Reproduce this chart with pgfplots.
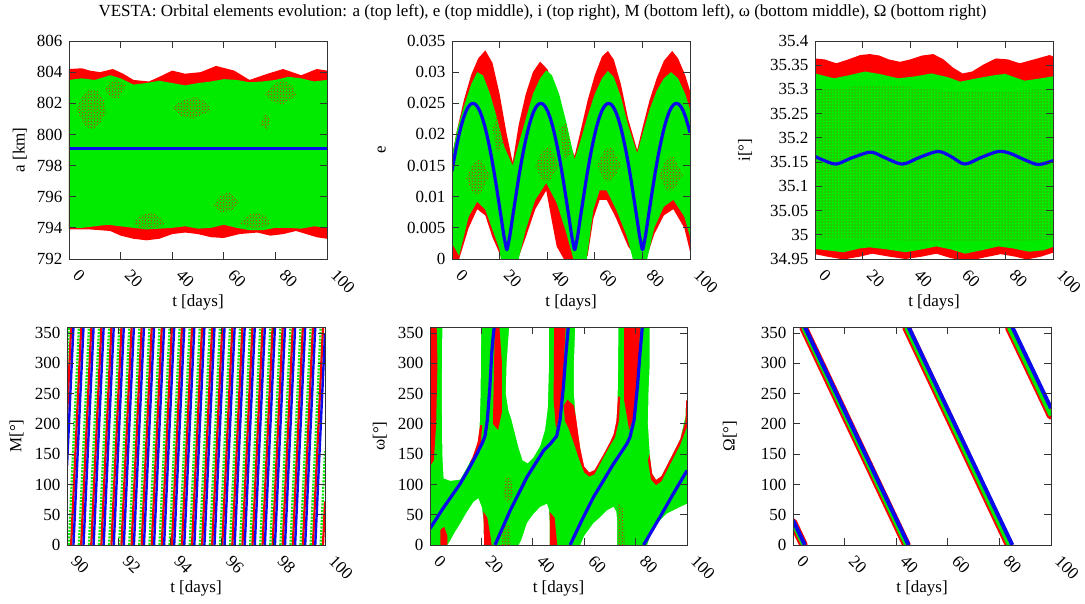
\documentclass[border=0pt]{standalone}
\usepackage{pgfplots}
\pgfplotsset{compat=1.18}
\usetikzlibrary{patterns}
\usepackage{fontspec}
\setmainfont{Liberation Serif}
\definecolor{gpred}{RGB}{255,0,0}
\definecolor{gpgreen}{RGB}{0,235,0}
\definecolor{gpblue}{RGB}{10,10,235}
\pgfplotsset{
 gp/.style={
  scale only axis, anchor=south west, axis on top,
  font=\fontsize{17}{19}\selectfont,
  /pgf/number format/assume math mode=true,
  tick align=inside, major tick length=7pt,
  axis line style={black!80, line width=0.9pt},
  every tick/.style={black!80, line width=0.9pt},
  xticklabel style={inner sep=1pt, xshift=6.3pt, yshift=-12.3pt, rotate=-45, anchor=west},
  yticklabel style={xshift=-3pt},
  xlabel={t [days]},
  xlabel style={inner sep=0pt, at={(axis description cs:0.5,-0.197)}, anchor=center},
  unbounded coords=jump,
  scaled ticks=false,
  height=218pt,
 }
}
\begin{document}
\begin{tikzpicture}[x=1pt,y=1pt]
\path[use as bounding box] (0,0) rectangle (1085,-603);
\node[font=\fontsize{17}{19}\selectfont] at (542.5,-12) {VESTA: Orbital elements evolution: a (top left), e (top middle), i (top right), M (bottom left), ω (bottom middle), Ω (bottom right)};

% ---------------- a ----------------
\begin{axis}[gp, at={(69pt,-259pt)}, width=258pt,
  xmin=0, xmax=100, ymin=792, ymax=806,
  xtick={0,20,40,60,80,100}, ytick={792,794,796,798,800,802,804,806},
  yticklabels={792,794,796,798,800,802,804,806},
  ylabel={a [km]}, ylabel style={at={(axis description cs:-0.19,0.5)}, anchor=center}]
\addplot[draw=none, fill=gpred] coordinates {(0,804.2) (5,804.25) (8,804.1) (12,804.0) (17,804.2) (21,803.9) (25,803.5) (31,803.4) (35,803.7) (40,804.1) (45,803.9) (51,804.0) (57,804.4) (64,804.1) (70,803.5) (77,803.9) (83,804.2) (90,803.8) (96,804.2) (100,804.1)
 (100,793.3) (96,793.4) (92,793.6) (88,793.8) (83,793.6) (78,793.5) (73,793.7) (66,793.6) (60,793.35) (55,793.4) (50,793.6) (45,793.7) (40,793.6) (35,793.3) (30,793.2) (25,793.3) (20,793.5) (16,793.8) (8,793.9) (0,793.9)} -- cycle;
\addplot[draw=none, fill=gpgreen] coordinates {(0,803.5) (5,803.6) (10,803.5) (16,803.8) (20,803.6) (25,803.2) (30,803.3) (35,803.45) (40,803.3) (45,803.15) (50,803.3) (55,803.4) (60,803.55) (65,803.5) (70,803.35) (75,803.4) (80,803.5) (85,803.7) (90,803.6) (95,803.4) (100,803.5)
 (100,794.0) (95,794.1) (90,793.95) (85,794.0) (80,794.0) (75,793.85) (70,793.85) (65,794.0) (60,794.2) (55,794.0) (50,793.95) (45,794.1) (40,794.0) (35,793.95) (30,793.9) (25,794.0) (20,794.1) (15,794.2) (10,794.1) (5,794.0) (0,794.0)} -- cycle;
\addplot[draw=none, pattern=crosshatch dots, pattern color=gpred] coordinates {(3,801.6) (5,802.4) (8,802.9) (11,802.8) (13.5,802.2) (14.5,801.4) (12,800.7) (9,800.3) (6,800.6)} -- cycle;
\addplot[draw=none, pattern=crosshatch dots, pattern color=gpred] coordinates {(14,802.9) (16,803.4) (19,803.5) (22,803.1) (19,802.3) (16,802.4)} -- cycle;
\addplot[draw=none, pattern=crosshatch dots, pattern color=gpred] coordinates {(25,794.3) (28,794.8) (32,795.0) (36,794.6) (37,794.2) (32,793.9) (27,794.0)} -- cycle;
\addplot[draw=none, pattern=crosshatch dots, pattern color=gpred] coordinates {(56,795.5) (59,796.1) (62,796.3) (66,795.7) (63,795.1) (59,795.0)} -- cycle;
\addplot[draw=none, pattern=crosshatch dots, pattern color=gpred] coordinates {(66,794.3) (69,794.8) (73,795.0) (77,794.7) (78,794.2) (72,793.9)} -- cycle;
\addplot[draw=none, pattern=crosshatch dots, pattern color=gpred] coordinates {(40,801.7) (44,802.2) (49,802.4) (54,802.0) (55,801.5) (48,801.0) (43,801.2)} -- cycle;
\addplot[draw=none, pattern=crosshatch dots, pattern color=gpred] coordinates {(76,802.6) (79,803.2) (83,803.5) (87,803.1) (88,802.5) (83,801.9) (79,802.1)} -- cycle;
\addplot[draw=none, pattern=crosshatch dots, pattern color=gpred] coordinates {(74,800.6) (76,801.3) (78,801.0) (77,800.3)} -- cycle;
\addplot[gpblue, line width=3.2pt] coordinates {(0,799.1) (100,799.1)};
\end{axis}

% ---------------- e ----------------
\begin{axis}[gp, at={(452pt,-259pt)}, width=238pt,
  xmin=0, xmax=100, ymin=0, ymax=0.035,
  xtick={0,20,40,60,80,100}, ytick={0,0.005,0.01,0.015,0.02,0.025,0.03,0.035},
  yticklabels={0,0.005,0.01,0.015,0.02,0.025,0.03,0.035},
  ylabel={e}, ylabel style={at={(axis description cs:-0.295,0.5)}, anchor=center}]
\addplot[draw=none, fill=gpred] coordinates {(0,0.0165) (2,0.0205) (5,0.0255) (8,0.0295) (11,0.0322) (14,0.0335) (17,0.0315) (20,0.0265) (23,0.0200) (25.5,0.0155) (28,0.0215) (31,0.0265) (34,0.0300) (37,0.0317) (40,0.0305) (43,0.0280) (46,0.0235) (49,0.0190) (51.5,0.0165) (54,0.0205) (57,0.0255) (60,0.0295) (63,0.0325) (65.5,0.0334) (68,0.0320) (71,0.0280) (74,0.0225) (77.8,0.0175) (80,0.0210) (83,0.0255) (86,0.0290) (89,0.0318) (92.5,0.0334) (95,0.0322) (98,0.0295) (100,0.0270)
 (100,0.0012) (97.6,0.0050) (93,0.0080) (89,0.0070) (85,0.0040) (82,0.0005) (78,0) (74,0.0020) (69,0.0065) (65,0.0095) (62,0.0095) (59.4,0.0065) (57,0.0005) (54,0) (47,0) (44,0.0020) (42,0.0060) (39.6,0.0110) (35,0.0080) (31,0.0035) (28,0.0003) (21,0) (17,0.0035) (14,0.0070) (10.6,0.0080) (7,0.0050) (3,0) (0,0)} -- cycle;
\addplot[draw=none, fill=gpgreen] coordinates {(0,0.0165) (2,0.0205) (5,0.0245) (8,0.0280) (10.6,0.0300) (13,0.0295) (16,0.0265) (19,0.0225) (22,0.0180) (25.5,0.0150) (28,0.0185) (31,0.0225) (34,0.0265) (37,0.0290) (39.6,0.0303) (42,0.0295) (45,0.0265) (48,0.0220) (51.5,0.0160) (54,0.0190) (57,0.0230) (60,0.0265) (63,0.0290) (65.5,0.0302) (68,0.0292) (71,0.0260) (74,0.0215) (77.8,0.0170) (80,0.0200) (83,0.0240) (86,0.0270) (89,0.0290) (92,0.0300) (95,0.0290) (98,0.0265) (100,0.0240)
 (100,0.0036) (97.6,0.0068) (93,0.0095) (89,0.0084) (85,0.0050) (82,0) (76,0) (73.5,0.0036) (69,0.0079) (65,0.0110) (62,0.0110) (59.4,0.0079) (56.6,0) (51,0) (48,0.0042) (44,0.0090) (39.6,0.0122) (35,0.0095) (31,0.0047) (28,0) (20.5,0) (20,0.0015) (17,0.0047) (14,0.0079) (10.6,0.0092) (7,0.0068) (3,0.0005) (0,0.0025)} -- cycle;
\addplot[draw=none, pattern=crosshatch dots, pattern color=gpred] coordinates {(6,0.013) (9,0.0155) (12,0.016) (16,0.0135) (12,0.0105) (9,0.0105)} -- cycle;
\addplot[draw=none, pattern=crosshatch dots, pattern color=gpred] coordinates {(35,0.015) (38,0.0175) (41,0.018) (45,0.015) (41,0.0125) (38,0.0125)} -- cycle;
\addplot[draw=none, pattern=crosshatch dots, pattern color=gpred] coordinates {(61,0.015) (64,0.0175) (67,0.018) (71,0.015) (67,0.0125) (64,0.0125)} -- cycle;
\addplot[draw=none, pattern=crosshatch dots, pattern color=gpred] coordinates {(87,0.0135) (90,0.016) (93,0.0165) (97,0.0135) (93,0.011) (90,0.011)} -- cycle;
\addplot[draw=none, pattern=crosshatch dots, pattern color=gpred] coordinates {(17,0.021) (20,0.024) (22,0.019) (19,0.017)} -- cycle;
\addplot[draw=none, pattern=crosshatch dots, pattern color=gpred] coordinates {(45,0.021) (48,0.022) (50,0.017) (47,0.016)} -- cycle;
\addplot[gpblue, line width=3.2pt, line join=round] coordinates {(0,.0141) (0.8,.0159) (1.8,.0179) (2.8,.0197) (3.8,.0213) (4.8,.0226) (5.8,.02365) (6.8,.0244) (7.8,.02485) (8.8,.0250) (9.8,.02485) (10.8,.0244) (11.8,.02365) (12.8,.0226) (13.8,.0213) (14.8,.0197) (15.8,.0179) (16.8,.0159) (17.8,.0137) (18.8,.0113) (19.8,.0088) (20.8,.0063) (21.8,.0037) (22.8,.0017) (23.05,.0015) (23.3,.0017) (24.3,.0037) (25.3,.0063) (26.3,.0088) (27.3,.0113) (28.3,.0137) (29.3,.0159) (30.3,.0179) (31.3,.0197) (32.3,.0213) (33.3,.0226) (34.3,.02365) (35.3,.0244) (36.3,.02485) (37.3,.0250) (38.3,.02485) (39.3,.0244) (40.3,.02365) (41.3,.0226) (42.3,.0213) (43.3,.0197) (44.3,.0179) (45.3,.0159) (46.3,.0137) (47.3,.0113) (48.3,.0088) (49.3,.0063) (50.3,.0037) (51.3,.0017) (51.55,.0015) (51.8,.0017) (52.8,.0037) (53.8,.0063) (54.8,.0088) (55.8,.0113) (56.8,.0137) (57.8,.0159) (58.8,.0179) (59.8,.0197) (60.8,.0213) (61.8,.0226) (62.8,.02365) (63.8,.0244) (64.8,.02485) (65.8,.0250) (66.8,.02485) (67.8,.0244) (68.8,.02365) (69.8,.0226) (70.8,.0213) (71.8,.0197) (72.8,.0179) (73.8,.0159) (74.8,.0137) (75.8,.0113) (76.8,.0088) (77.8,.0063) (78.8,.0037) (79.8,.0017) (80.05,.0015) (80.3,.0017) (81.3,.0037) (82.3,.0063) (83.3,.0088) (84.3,.0113) (85.3,.0137) (86.3,.0159) (87.3,.0179) (88.3,.0197) (89.3,.0213) (90.3,.0226) (91.3,.02365) (92.3,.0244) (93.3,.02485) (94.3,.0250) (95.3,.02485) (96.3,.0244) (97.3,.02365) (98.3,.0226) (99.3,.0213) (100,.0203)};
\end{axis}

% ---------------- i ----------------
\begin{axis}[gp, at={(815pt,-259pt)}, width=238pt,
  xmin=0, xmax=100, ymin=34.95, ymax=35.4,
  xtick={0,20,40,60,80,100}, ytick={34.95,35,35.05,35.1,35.15,35.2,35.25,35.3,35.35,35.4},
  yticklabels={34.95,35,35.05,35.1,35.15,35.2,35.25,35.3,35.35,35.4},
  ylabel={i[°]}, ylabel style={at={(axis description cs:-0.294,0.5)}, anchor=center}]
\addplot[draw=none, fill=gpred] coordinates {(0,35.364) (4,35.362) (9,35.354) (14,35.362) (19,35.371) (23,35.373) (27,35.370) (31,35.362) (35.7,35.357) (40,35.362) (45,35.37) (49.7,35.373) (54,35.362) (58,35.345) (62,35.333) (66,35.337) (71,35.352) (76,35.364) (81,35.362) (86,35.354) (92,35.362) (98.6,35.371) (100,35.368)
 (100,34.963) (95,34.955) (89,34.949) (84,34.955) (78,34.960) (70,34.952) (64,34.945) (57,34.952) (51,34.961) (45,34.955) (38,34.950) (31,34.955) (24,34.961) (19,34.955) (12,34.949) (5,34.955) (0,34.96)} -- cycle;
\addplot[draw=none, fill=gpgreen] coordinates {(0,35.333) (8,35.323) (15,35.330) (21,35.337) (27,35.332) (35,35.323) (42,35.327) (49,35.333) (56,35.325) (61,35.316) (67,35.322) (76,35.330) (80,35.332) (88,35.318) (95,35.323) (100,35.327)
 (100,34.975) (96,34.968) (90,34.965) (83,34.972) (77,34.976) (70,34.968) (63,34.961) (57,34.970) (51,34.976) (45,34.970) (38,34.964) (30,34.970) (23,34.974) (19,34.972) (12,34.964) (5,34.968) (0,34.971)} -- cycle;
\addplot[draw=none, pattern=dots, pattern color=gpred] coordinates {(0,35.30) (30,35.31) (60,35.295) (100,35.30) (100,34.99) (60,34.985) (30,34.99) (0,34.99)} -- cycle;
\addplot[gpblue, line width=3.2pt, smooth] coordinates {(0,35.162) (3,35.155) (8.8,35.146) (15,35.158) (22.2,35.170) (25,35.169) (29,35.160) (36.7,35.146) (44,35.160) (51.7,35.172) (57,35.162) (62.9,35.146) (70,35.160) (77,35.172) (82,35.168) (88,35.155) (93.8,35.145) (100,35.153)};
\end{axis}

% ---------------- M ----------------
\begin{axis}[gp, at={(67pt,-545pt)}, width=258pt,
  xmin=90, xmax=100, ymin=0, ymax=360,
  xtick={90,92,94,96,98,100}, ytick={0,50,100,150,200,250,300,350},
  yticklabels={0,50,100,150,200,250,300,350},
  ylabel={M[°]}, ylabel style={at={(axis description cs:-0.195,0.5)}, anchor=center}]
\addplot[gpred, line width=2.3pt] coordinates {(90,212) (90.160,360) (90.160,nan)
(90.160,0) (90.550,360) (90.550,nan) (90.550,0) (90.941,360) (90.941,nan)
(90.941,0) (91.331,360) (91.331,nan) (91.331,0) (91.722,360) (91.722,nan)
(91.722,0) (92.112,360) (92.112,nan) (92.112,0) (92.503,360) (92.503,nan)
(92.503,0) (92.893,360) (92.893,nan) (92.893,0) (93.284,360) (93.284,nan)
(93.284,0) (93.674,360) (93.674,nan) (93.674,0) (94.065,360) (94.065,nan)
(94.065,0) (94.455,360) (94.455,nan) (94.455,0) (94.846,360) (94.846,nan)
(94.846,0) (95.236,360) (95.236,nan) (95.236,0) (95.627,360) (95.627,nan)
(95.627,0) (96.017,360) (96.017,nan) (96.017,0) (96.408,360) (96.408,nan)
(96.408,0) (96.798,360) (96.798,nan) (96.798,0) (97.189,360) (97.189,nan)
(97.189,0) (97.579,360) (97.579,nan) (97.579,0) (97.970,360) (97.970,nan)
(97.970,0) (98.360,360) (98.360,nan) (98.360,0) (98.751,360) (98.751,nan)
(98.751,0) (99.141,360) (99.141,nan) (99.141,0) (99.532,360) (99.532,nan)
(99.532,0) (99.922,360) (99.922,nan) (99.922,0) (100,72)};
\addplot[gpgreen, line width=2.3pt, dash pattern=on 2pt off 1.3pt] coordinates {(90,295) (90.070,360) (90.070,nan)
(90.070,0) (90.460,360) (90.460,nan) (90.460,0) (90.851,360) (90.851,nan)
(90.851,0) (91.241,360) (91.241,nan) (91.241,0) (91.632,360) (91.632,nan)
(91.632,0) (92.022,360) (92.022,nan) (92.022,0) (92.413,360) (92.413,nan)
(92.413,0) (92.803,360) (92.803,nan) (92.803,0) (93.194,360) (93.194,nan)
(93.194,0) (93.584,360) (93.584,nan) (93.584,0) (93.975,360) (93.975,nan)
(93.975,0) (94.365,360) (94.365,nan) (94.365,0) (94.756,360) (94.756,nan)
(94.756,0) (95.146,360) (95.146,nan) (95.146,0) (95.537,360) (95.537,nan)
(95.537,0) (95.927,360) (95.927,nan) (95.927,0) (96.318,360) (96.318,nan)
(96.318,0) (96.708,360) (96.708,nan) (96.708,0) (97.099,360) (97.099,nan)
(97.099,0) (97.489,360) (97.489,nan) (97.489,0) (97.880,360) (97.880,nan)
(97.880,0) (98.270,360) (98.270,nan) (98.270,0) (98.661,360) (98.661,nan)
(98.661,0) (99.051,360) (99.051,nan) (99.051,0) (99.442,360) (99.442,nan)
(99.442,0) (99.832,360) (99.832,nan) (99.832,0) (100,155)};
\addplot[gpblue, line width=2.4pt] coordinates {(90,130) (90.250,360) (90.250,nan)
(90.250,0) (90.640,360) (90.640,nan) (90.640,0) (91.031,360) (91.031,nan)
(91.031,0) (91.421,360) (91.421,nan) (91.421,0) (91.812,360) (91.812,nan)
(91.812,0) (92.202,360) (92.202,nan) (92.202,0) (92.593,360) (92.593,nan)
(92.593,0) (92.983,360) (92.983,nan) (92.983,0) (93.374,360) (93.374,nan)
(93.374,0) (93.764,360) (93.764,nan) (93.764,0) (94.155,360) (94.155,nan)
(94.155,0) (94.545,360) (94.545,nan) (94.545,0) (94.936,360) (94.936,nan)
(94.936,0) (95.326,360) (95.326,nan) (95.326,0) (95.717,360) (95.717,nan)
(95.717,0) (96.107,360) (96.107,nan) (96.107,0) (96.498,360) (96.498,nan)
(96.498,0) (96.888,360) (96.888,nan) (96.888,0) (97.279,360) (97.279,nan)
(97.279,0) (97.669,360) (97.669,nan) (97.669,0) (98.060,360) (98.060,nan)
(98.060,0) (98.450,360) (98.450,nan) (98.450,0) (98.841,360) (98.841,nan)
(98.841,0) (99.231,360) (99.231,nan) (99.231,0) (99.622,360) (99.622,nan)
(99.622,0) (100,349)};
\end{axis}

% ---------------- omega ----------------
\begin{axis}[gp, at={(430pt,-545pt)}, width=257pt,
  xmin=0, xmax=100, ymin=0, ymax=360,
  xtick={0,20,40,60,80,100}, ytick={0,50,100,150,200,250,300,350},
  yticklabels={0,50,100,150,200,250,300,350},
  ylabel={ω[°]}, ylabel style={at={(axis description cs:-0.195,0.5)}, anchor=center}]
\addplot[draw=none, fill=gpgreen] coordinates {(0,0) (100,0) (100,360) (0,360)} -- cycle;
% red patches
\addplot[draw=none, fill=gpred] coordinates {(0,130) (0,360) (2.6,360) (2.9,300) (2.4,200) (1.5,140)} -- cycle;
\addplot[draw=none, fill=gpred] coordinates {(4,0) (4,25) (5.5,30) (6.8,15) (6.8,0)} -- cycle;
\addplot[draw=none, fill=gpred] coordinates {(24.5,200) (25.2,360) (27,360) (28,300) (28,220) (26.5,190)} -- cycle;
\addplot[draw=none, fill=gpred] coordinates {(15.5,140) (17,152) (18.5,172) (19.4,198) (20.3,198) (19.8,168) (18,146) (16,133)} -- cycle;
\addplot[draw=none, fill=gpred] coordinates {(20.8,0) (20.8,55) (22.3,45) (23.5,15) (24,0)} -- cycle;
\addplot[draw=none, pattern=crosshatch dots, pattern color=gpred] coordinates {(28.5,80) (29.5,112) (31.5,110) (32.5,85) (30.5,70)} -- cycle;
\addplot[draw=none, pattern=crosshatch dots, pattern color=gpred] coordinates {(28,0) (28,30) (31,35) (31.5,0)} -- cycle;
\addplot[draw=none, fill=gpred] coordinates {(48.3,360) (52.8,360) (51.5,260) (50.3,212) (49,192) (48.1,240)} -- cycle;
\addplot[draw=none, fill=gpred] coordinates {(46.5,0) (46.5,55) (48.5,45) (49.5,0)} -- cycle;
\addplot[draw=none, fill=gpred] coordinates {(52,230) (53.5,240) (56,230) (57.5,195) (58.5,165) (60,135) (62,125) (64,129) (67.5,155) (70,175) (71.4,188) (72.5,210) (73,245) (74,245) (73.5,205) (72,178) (70,164) (67.5,145) (64,117) (62,113) (60,120) (58,142) (56,168) (54,192) (52.5,205)} -- cycle;
\addplot[draw=none, fill=gpred] coordinates {(75.5,360) (81.8,360) (80.8,270) (79.5,215) (77.5,190) (75.5,240)} -- cycle;
\addplot[draw=none, pattern=crosshatch dots, pattern color=gpred] coordinates {(73,0) (73,70) (75,60) (76,0)} -- cycle;
\addplot[draw=none, fill=gpred] coordinates {(85.5,150) (86.5,118) (88,108) (90,114) (93.5,143) (97.4,176) (99.4,203) (99.6,240) (100,240) (100,195) (97.4,166) (93.5,134) (90,105) (88,99) (86,108) (84.8,140)} -- cycle;
% empty regions
\addplot[draw=none, fill=white] coordinates {(4.8,360) (4.6,250) (4.8,150) (5.3,110) (8,106) (11.7,108) (14,125) (16.5,145) (18.5,170) (19.3,195) (19.7,250) (19.9,360)} -- cycle;
\addplot[draw=none, fill=white] coordinates {(30.8,360) (29.8,300) (29.5,250) (30.5,222) (31.5,210) (33,185) (34.5,160) (36,140) (38,135) (40.3,145) (42.9,164) (44.8,191) (45.8,225) (46.2,280) (46.3,360)} -- cycle;
\addplot[draw=none, fill=white] coordinates {(56.5,360) (56,300) (56,250) (56.5,222) (57.5,190) (58.5,160) (60,130) (62,120) (64,124) (67.5,150) (70,170) (71.4,183) (72.5,205) (73,240) (73.2,300) (73.3,360)} -- cycle;
\addplot[draw=none, fill=white] coordinates {(85.5,360) (85.5,300) (85,250) (84.8,200) (85.5,150) (86.5,118) (88,108) (90,114) (93.5,143) (97.4,176) (99.4,212) (99.6,238) (100,240) (100,360)} -- cycle;
\addplot[draw=none, fill=white] coordinates {(6.8,0) (8,8) (9.5,20) (11.7,35) (14,52) (16.9,71) (18.8,77) (20.2,62) (20.8,40) (21,0)} -- cycle;
\addplot[draw=none, fill=white] coordinates {(34.5,0) (35.5,8) (37.7,36) (40,50) (42.9,63) (45.5,68) (46.3,58) (46.5,40) (46.5,0)} -- cycle;
\addplot[draw=none, fill=white] coordinates {(58.5,0) (60,15) (63.6,36) (66,45) (68.8,57) (71.4,63) (72.5,55) (72.8,40) (72.8,0)} -- cycle;
\addplot[draw=none, fill=white] coordinates {(84.5,0) (87,30) (92.2,52) (97.4,63) (100,68) (100,0)} -- cycle;
\addplot[gpblue, line width=3.2pt] coordinates {(0,27) (5,60) (11.7,101) (15,125) (18.2,150) (20.5,170) (21.4,180) (22.3,206) (23.3,261) (24.0,316) (24.6,345) (25.0,360) (25.0,nan)
 (25.3,0) (31.2,57) (37.7,112) (44.2,156) (47,168) (49.3,180) (50.6,206) (51.9,261) (52.9,316) (53.4,340) (53.8,360) (53.8,nan)
 (54.5,0) (59,40) (63.6,79) (71.4,134) (76.6,167) (77.8,178) (79.4,206) (80.7,261) (81.7,316) (82.2,340) (82.6,360) (82.6,nan)
 (83.1,0) (90,50) (95,87) (100,123)};
\end{axis}

% ---------------- Omega ----------------
\begin{axis}[gp, at={(793pt,-545pt)}, width=258pt,
  xmin=0, xmax=100, ymin=0, ymax=360,
  xtick={0,20,40,60,80,100}, ytick={0,50,100,150,200,250,300,350},
  yticklabels={0,50,100,150,200,250,300,350},
  ylabel={Ω[°]}, ylabel style={at={(axis description cs:-0.245,0.5)}, anchor=center}]
\addplot[gpred, line width=8.5pt, line cap=round] coordinates {(0,37) (4.1,0) (4.1,nan) (4.1,359) (44.0,0) (44.0,nan) (44.0,359) (83.8,0) (83.8,nan) (83.8,359) (100,214)};
\addplot[gpgreen, line width=4.5pt] coordinates {(0,37) (4.1,0) (4.1,nan) (4.1,359) (44.0,0) (44.0,nan) (44.0,359) (83.8,0) (83.8,nan) (83.8,359) (100,214)};
\addplot[gpblue, line width=4pt] coordinates {(0,41) (4.6,0) (4.6,nan) (4.6,360) (44.8,0) (44.8,nan) (44.8,360) (85.0,0) (85.0,nan) (85.0,360) (100,226)};
\end{axis}
\end{tikzpicture}
\end{document}
